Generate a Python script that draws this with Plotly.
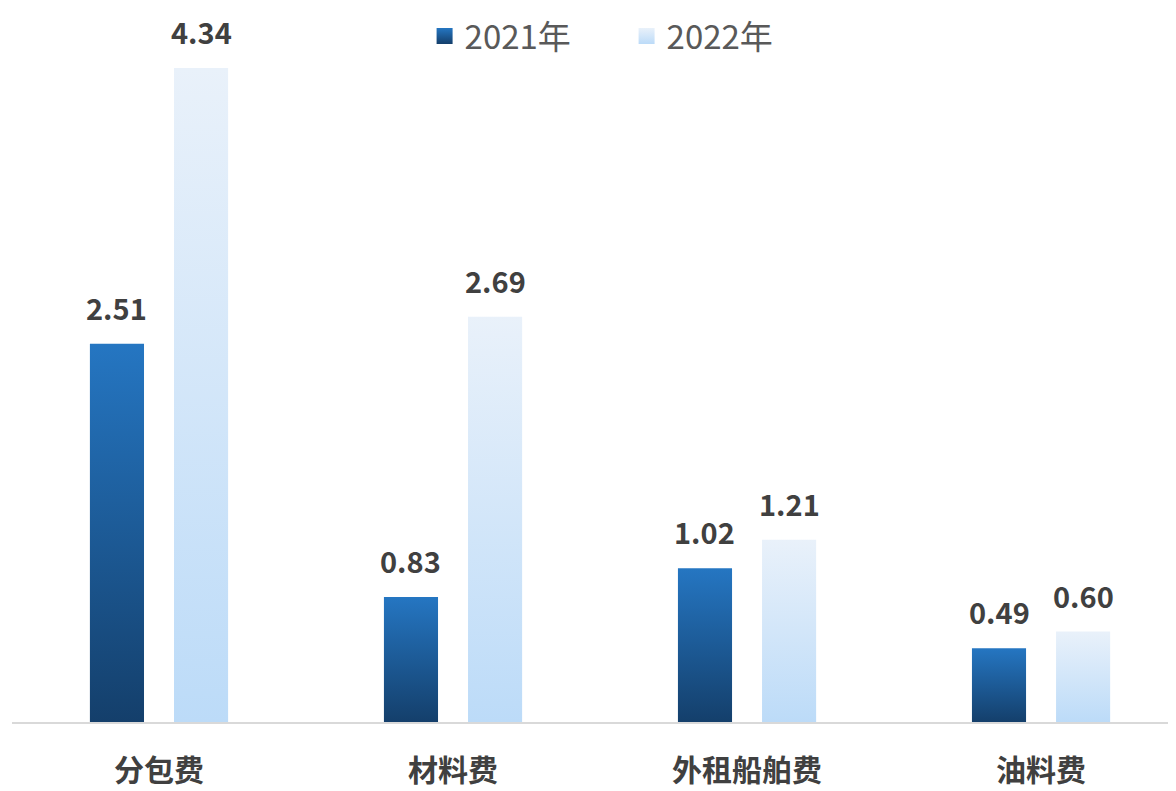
import plotly.graph_objects as go

categories = ["分包费", "材料费", "外租船舶费", "油料费"]
years = ["2021年", "2022年"]
values_2021 = [2.51, 0.83, 1.02, 0.49]
values_2022 = [4.34, 2.69, 1.21, 0.60]

series = [
    (years[0], values_2021, -0.143, [[0, "#143f6b"], [1, "#2576c2"]]),
    (years[1], values_2022, 0.143, [[0, "#bcdbf8"], [1, "#e9f1fa"]]),
]
half_w = 0.092
font_cjk = "Noto Sans CJK SC, Noto Sans, sans-serif"

fig = go.Figure()
annotations = []
for name, vals, off, cs in series:
    # legend swatch
    fig.add_trace(go.Scatter(
        x=[None], y=[None], mode="markers", name=name, legendgroup=name,
        marker=dict(symbol="square", size=16, color=cs[1][1],
                    gradient=dict(type="vertical", color=cs[0][1]),
                    line=dict(width=0)),
    ))
    for i, v in enumerate(vals):
        xc = i + off
        fig.add_trace(go.Scatter(
            x=[xc - half_w, xc - half_w, xc + half_w, xc + half_w, xc - half_w],
            y=[0, v, v, 0, 0],
            mode="lines", line=dict(width=0),
            fill="toself",
            fillgradient=dict(type="vertical", colorscale=cs),
            name=name, legendgroup=name, showlegend=False,
            hoverinfo="skip",
        ))
        annotations.append(dict(
            x=xc, y=v, text=f"{v:.2f}", showarrow=False,
            yanchor="bottom", yshift=14,
            font=dict(family=font_cjk, size=29, color="#404040", weight="bold"),
        ))

fig.update_layout(
    width=1168, height=783,
    margin=dict(l=4, r=0, t=22, b=69, autoexpand=False),
    paper_bgcolor="white", plot_bgcolor="white",
    annotations=annotations,
    legend=dict(orientation="h", x=0.528, xanchor="center", y=1.0318, yanchor="top",
                font=dict(family=font_cjk, size=33, color="#595959"),
                entrywidth=157, itemwidth=30, traceorder="normal"),
    xaxis=dict(range=[-0.5, 3.459], tickvals=list(range(len(categories))),
               ticktext=categories, showgrid=False, zeroline=False,
               showline=True, linecolor="#d9d9d9", linewidth=2, ticks="",
               ticklabelstandoff=21,
               tickfont=dict(family=font_cjk, size=30, color="#404040", weight="bold")),
    yaxis=dict(range=[0, 4.592], visible=False, showgrid=False, zeroline=False),
)

fig.write_html("out.html")
